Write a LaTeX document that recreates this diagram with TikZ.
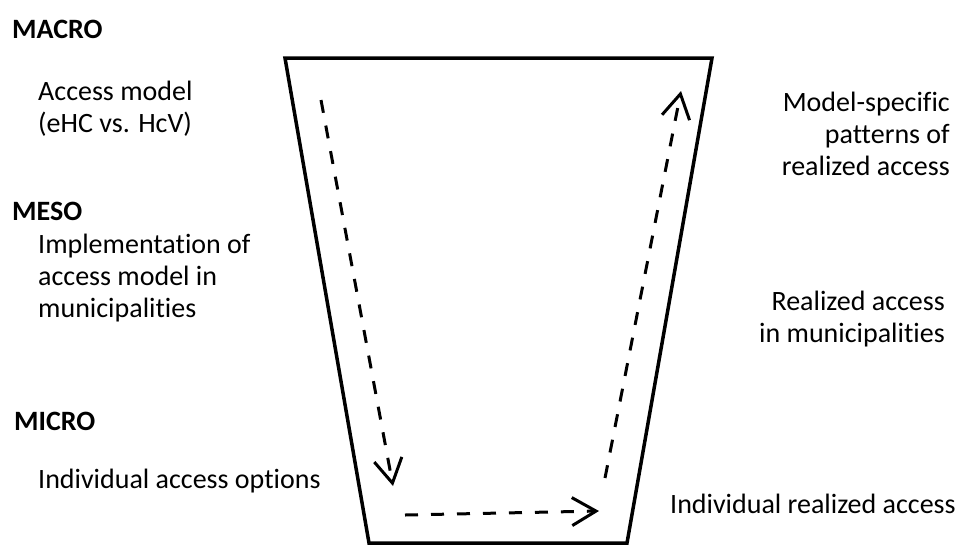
\documentclass[tikz,border=0pt]{standalone}
\usepackage{fontspec}
\setmainfont{Carlito}[Ligatures=NoCommon]
\usetikzlibrary{arrows.meta}
\tikzset{
  level/.style  ={inner sep=0pt, font=\fontsize{28}{32}\selectfont\bfseries},
  item/.style   ={inner sep=0pt, font=\fontsize{28}{32}\selectfont, align=left},
  itemR/.style  ={item, align=right},
  funnel/.style ={draw=black, line width=3.5pt, line join=miter},
  flow/.style   ={-{Straight Barb[length=24pt, width=28pt, line width=3pt]},
                  line width=3pt, dash pattern=on 13pt off 13pt},
}
\begin{document}
\begin{tikzpicture}[x=1pt, y=-1pt]
\useasboundingbox (0,0) rectangle (965,550);

% funnel
\coordinate (TL) at (285,58);
\coordinate (TR) at (712,58);
\coordinate (BR) at (627,543);
\coordinate (BL) at (369,543);
\draw[funnel] (TL) -- (TR) -- (BR) -- (BL) -- cycle;

% levels, left side
\node[level, anchor=base west] (macro) at (12,38) {MACRO};
\node[item, anchor=base west] (model) at (38,132) {Access model\\(eHC vs. HcV)};
\node[level, anchor=base west] (meso) at (12,220) {MESO};
\node[item, anchor=base west] (impl) at (38,317) {Implementation of\\access model in\\municipalities};
\node[level, anchor=base west] (micro) at (14,430) {MICRO};
\node[item, anchor=base west] (options) at (38,488) {Individual access options};

% levels, right side
\node[itemR, anchor=base east] (patterns) at (950,175) {Model-specific\\patterns of\\realized access};
\node[itemR, anchor=base east] (realized) at (945,342) {Realized access\\in municipalities};
\node[item, anchor=base west] (indiv) at (670,513) {Individual realized access};

% dashed flow
\coordinate (d0) at (321,100);
\coordinate (d1) at (393,486);
\coordinate (h0) at (405,515);
\coordinate (h1) at (599,511);
\coordinate (u0) at (605,478);
\coordinate (u1) at (681,91);
\draw[flow] (d0) -- (d1);
\draw[flow] (h0) -- (h1);
\draw[flow] (u0) -- (u1);

\end{tikzpicture}
\end{document}
